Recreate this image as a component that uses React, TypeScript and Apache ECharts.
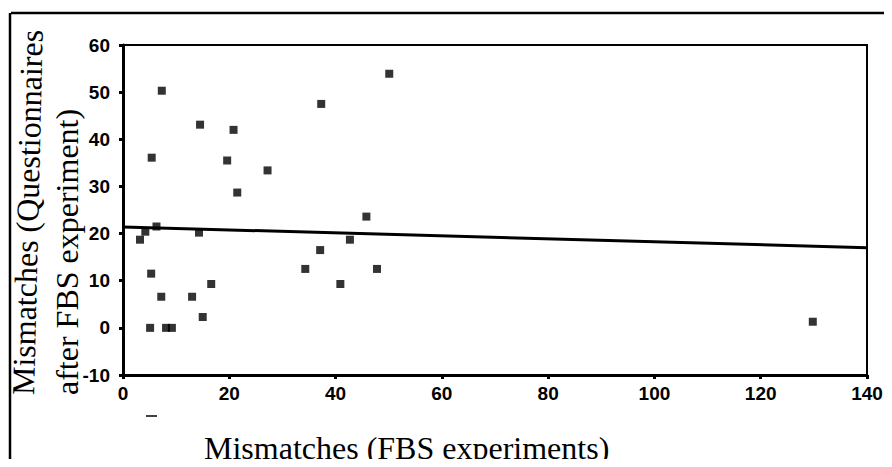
import React, { useEffect, useRef } from "react";
import * as echarts from "echarts";

const xTicks = [0, 20, 40, 60, 80, 100, 120, 140];
const yTicks = [-10, 0, 10, 20, 30, 40, 50, 60];

const fbsMismatches = [
  3.2, 4.2, 6.3, 14.3, 5.3, 7.2, 13.0, 16.6, 15.0, 5.1, 8.1, 9.2, 7.3, 14.5,
  20.8, 5.4, 19.6, 27.2, 21.5, 50.1, 37.3, 45.8, 42.7, 37.1, 34.3, 47.8, 40.9,
  129.8,
];
const questionnaireMismatches = [
  18.7, 20.4, 21.5, 20.2, 11.5, 6.6, 6.6, 9.3, 2.3, 0, 0, 0, 50.3, 43.1, 42.0,
  36.1, 35.5, 33.4, 28.7, 53.9, 47.5, 23.6, 18.7, 16.5, 12.5, 12.5, 9.3, 1.3,
];
const fitX = [0, 140];
const fitY = [21.4, 17.0];

const xTitle = "Mismatches (FBS experiments)";
const yTitle1 = "Mismatches (Questionnaires";
const yTitle2 = "after FBS experiment)";

export default function App() {
  const ref = useRef<HTMLDivElement>(null);
  useEffect(() => {
    if (!ref.current) return;
    const chart = echarts.init(ref.current, null, { renderer: "svg" });
    const serif = "'Liberation Serif', 'Times New Roman', serif";
    const tickFont = {
      color: "#000",
      fontFamily: "'Liberation Sans', Arial, sans-serif",
      fontWeight: "bold" as const,
      fontSize: 19,
    };
    chart.setOption({
      animation: false,
      backgroundColor: "#fff",
      grid: {
        left: 123,
        top: 45,
        right: 25,
        bottom: 92,
        show: true,
        borderColor: "#000",
        borderWidth: 2,
        backgroundColor: "transparent",
      },
      xAxis: {
        type: "value",
        min: xTicks[0],
        max: xTicks[xTicks.length - 1],
        interval: 20,
        splitLine: { show: false },
        axisLine: { show: true, onZero: false, lineStyle: { color: "#000", width: 3 } },
        axisTick: { show: true, length: 4, lineStyle: { color: "#000", width: 3 } },
        axisLabel: { ...tickFont, margin: 9 },
      },
      yAxis: {
        type: "value",
        min: yTicks[0],
        max: yTicks[yTicks.length - 1],
        interval: 10,
        splitLine: { show: false },
        axisLine: { show: true, onZero: false, lineStyle: { color: "#000", width: 3 } },
        axisTick: { show: true, length: 4, lineStyle: { color: "#000", width: 3 } },
        axisLabel: { ...tickFont, margin: 13 },
      },
      series: [
        {
          type: "scatter",
          data: fbsMismatches.map((x, i) => [x, questionnaireMismatches[i]]),
          symbol: "rect",
          symbolSize: 8,
          itemStyle: { color: "#000" },
        },
        {
          type: "line",
          data: fitX.map((x, i) => [x, fitY[i]]),
          showSymbol: false,
          symbol: "none",
          lineStyle: { color: "#000", width: 3 },
        },
      ],
      graphic: [
        {
          type: "line",
          shape: { x1: 11, y1: 13, x2: 892, y2: 13 },
          style: { stroke: "#000", lineWidth: 2.5 },
        },
        {
          type: "line",
          shape: { x1: 10, y1: 13, x2: 10, y2: 467 },
          style: { stroke: "#000", lineWidth: 2.5 },
        },
        {
          type: "line",
          shape: { x1: 146, y1: 416, x2: 157, y2: 416 },
          style: { stroke: "#000", lineWidth: 1.5 },
        },
        {
          type: "text",
          x: 204,
          y: 448,
          style: {
            text: xTitle,
            font: `32px ${serif}`,
            fill: "#000",
            textAlign: "left",
            textVerticalAlign: "middle",
          },
        },
        {
          type: "text",
          x: 23,
          y: 395,
          rotation: Math.PI / 2 - 0.024,
          style: {
            text: yTitle1,
            font: `32px ${serif}`,
            fill: "#000",
            textAlign: "left",
            textVerticalAlign: "middle",
          },
        },
        {
          type: "text",
          x: 67,
          y: 395,
          rotation: Math.PI / 2,
          style: {
            text: yTitle2,
            font: `32px ${serif}`,
            fill: "#000",
            textAlign: "left",
            textVerticalAlign: "middle",
          },
        },
      ],
    });
    return () => chart.dispose();
  }, []);
  return <div ref={ref} style={{ width: 892, height: 467, margin: -8 }} />;
}
